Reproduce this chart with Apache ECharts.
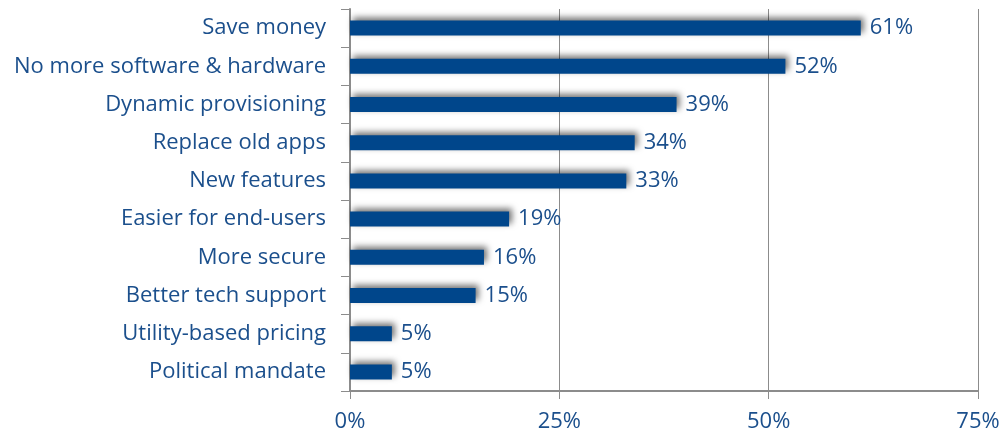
<!DOCTYPE html>
<html>
<head>
<meta charset="utf-8">
<script src="https://cdn.jsdelivr.net/npm/echarts@6/dist/echarts.min.js"></script>
<style>
  html, body { margin: 0; padding: 0; background: #fff; }
  #chart { width: 1008px; height: 436px; }
</style>
</head>
<body>
<div id="chart"></div>
<script>
// categories listed top to bottom
const categories = [
  'Save money',
  'No more software & hardware',
  'Dynamic provisioning',
  'Replace old apps',
  'New features',
  'Easier for end-users',
  'More secure',
  'Better tech support',
  'Utility-based pricing',
  'Political mandate'
]
const values = [61, 52, 39, 34, 33, 19, 16, 15, 5, 5]
const xTicks = [0, 25, 50, 75]

const textColor = '#1b4f8c'
const barColor = '#00468b'
const axisGray = '#8c8c8c'
const font = 'Open Sans'

const chart = echarts.init(document.getElementById('chart'))
chart.setOption({
  animation: false,
  grid: {
    left: 350,
    right: 30,
    top: 9,
    bottom: 45
  },
  xAxis: {
    type: 'value',
    min: xTicks[0],
    max: xTicks[xTicks.length - 1],
    interval: 25,
    axisLine: { show: true, lineStyle: { color: axisGray, width: 2 } },
    axisTick: { show: true, length: 8, lineStyle: { color: axisGray, width: 1 } },
    splitLine: { show: true, lineStyle: { color: axisGray, width: 1 } },
    axisLabel: {
      margin: 20,
      color: textColor,
      fontFamily: font,
      fontSize: 22,
      formatter: '{value}%'
    }
  },
  yAxis: {
    type: 'category',
    data: categories,
    inverse: true,
    axisLine: { show: true, lineStyle: { color: axisGray, width: 2 } },
    axisTick: { show: true, length: 9, lineStyle: { color: axisGray, width: 1 } },
    axisLabel: {
      margin: 24,
      color: textColor,
      fontFamily: font,
      fontSize: 22
    }
  },
  series: [
    {
      type: 'bar',
      data: values,
      barWidth: 15,
      itemStyle: {
        color: barColor,
        shadowColor: 'rgba(0,0,0,0.55)',
        shadowBlur: 6,
        shadowOffsetX: 3,
        shadowOffsetY: -3
      },
      label: {
        show: true,
        position: 'right',
        distance: 9,
        color: textColor,
        fontFamily: font,
        fontSize: 22,
        formatter: '{c}%'
      }
    }
  ]
})
</script>
</body>
</html>
